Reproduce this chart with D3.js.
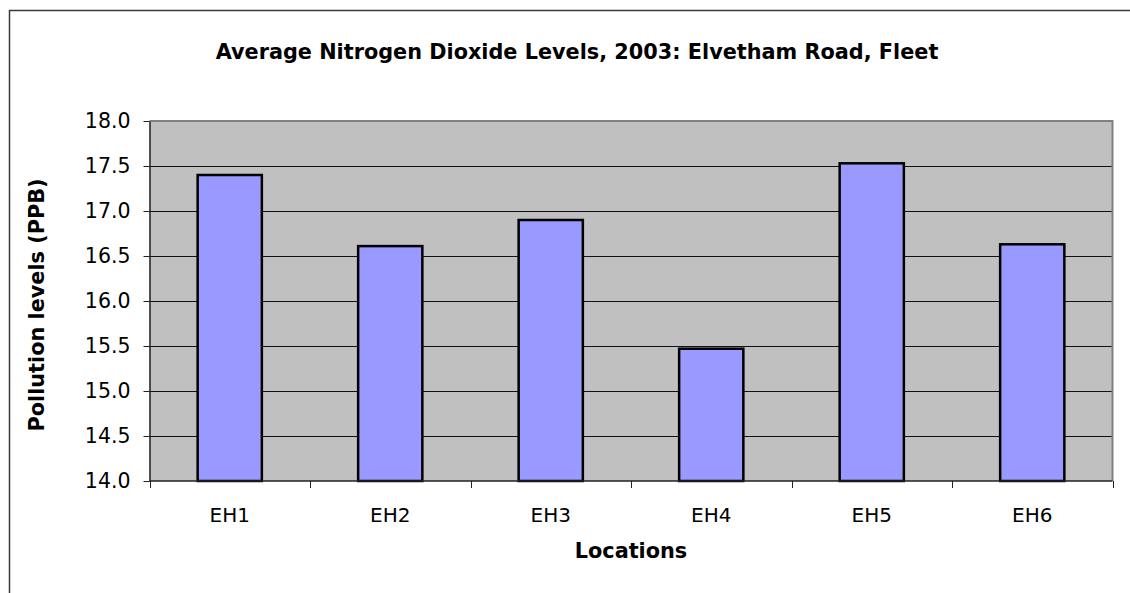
<!DOCTYPE html>
<html>
<head>
<meta charset="utf-8">
<script src="https://cdn.jsdelivr.net/npm/d3@7"></script>
<style>
  body { margin: 0; background: #fff; }
  svg { display: block; font-family: Verdana, "DejaVu Sans", sans-serif; }
</style>
</head>
<body>
<svg id="chart" width="1130" height="593"></svg>
<script>
// chart data
const locations = ['EH1', 'EH2', 'EH3', 'EH4', 'EH5', 'EH6']
const no2Levels = [17.40, 16.61, 16.90, 15.47, 17.53, 16.63]
const yTicks = [14.0, 14.5, 15.0, 15.5, 16.0, 16.5, 17.0, 17.5, 18.0]

const chartTitle = 'Average Nitrogen Dioxide Levels, 2003: Elvetham Road, Fleet'
const xTitle = 'Locations'
const yTitle = 'Pollution levels (PPB)'

const svg = d3.select('#chart')
const plot = { left: 149.5, right: 1112.5, top: 121, bottom: 481 }

// outer chart border (top + left visible only)
svg.append('path')
  .attr('d', 'M9.5,600 V10.5 H1140')
  .attr('fill', 'none')
  .attr('stroke', '#3a3a3a')
  .attr('stroke-width', 1.5)

let x = d3.scaleBand()
  .domain(locations)
  .range([plot.left, plot.right])
  .paddingInner(0.6)
  .paddingOuter(0.3)

let xEdge = d3.scaleLinear()
  .domain([0, locations.length])
  .range([plot.left, plot.right])

let y = d3.scaleLinear()
  .domain([14, 18])
  .range([plot.bottom, plot.top])

// plot background
svg.append('rect')
  .attr('x', plot.left)
  .attr('y', plot.top)
  .attr('width', plot.right - plot.left)
  .attr('height', plot.bottom - plot.top)
  .attr('fill', '#c0c0c0')

// gridlines
svg.append('g')
  .selectAll('line')
  .data(yTicks.slice(1, -1))
  .join('line')
  .attr('x1', plot.left)
  .attr('x2', plot.right)
  .attr('y1', d => Math.round(y(d)) + 0.5)
  .attr('y2', d => Math.round(y(d)) + 0.5)
  .attr('stroke', '#111')
  .attr('stroke-width', 1)

// plot border (top and right)
svg.append('path')
  .attr('d', `M${plot.left},${plot.top} H${plot.right} V${plot.bottom}`)
  .attr('fill', 'none')
  .attr('stroke', '#808080')
  .attr('stroke-width', 2)

// bars
svg.append('g')
  .selectAll('rect')
  .data(locations)
  .join('rect')
  .attr('x', d => x(d))
  .attr('width', x.bandwidth())
  .attr('y', (d, i) => y(no2Levels[i]))
  .attr('height', (d, i) => y(14) - y(no2Levels[i]))
  .attr('fill', '#9999ff')
  .attr('stroke', '#000')
  .attr('stroke-width', 2.5)

// y axis
let yAxis = d3.axisLeft(y)
  .tickValues(yTicks)
  .tickFormat(d3.format('.1f'))
  .tickSizeInner(6)
  .tickSizeOuter(0)
  .tickPadding(13)

let yAxisG = svg.append('g')
  .attr('transform', `translate(${plot.left},0)`)
  .call(yAxis)
yAxisG.select('.domain').attr('stroke', '#222').attr('stroke-width', 1.5)
yAxisG.selectAll('.tick line').attr('stroke', '#222')
yAxisG.selectAll('.tick text')
  .attr('font-size', 20.5)
  .attr('fill', '#000')
  .style('font-family', 'Verdana, "DejaVu Sans", sans-serif')

// x axis line + boundary ticks
let xAxisG = svg.append('g')
xAxisG.append('line')
  .attr('x1', plot.left)
  .attr('x2', plot.right)
  .attr('y1', plot.bottom)
  .attr('y2', plot.bottom)
  .attr('stroke', '#222')
  .attr('stroke-width', 1.5)
xAxisG.selectAll('line.tick')
  .data(d3.range(locations.length + 1))
  .join('line')
  .attr('class', 'tick')
  .attr('x1', d => Math.round(xEdge(d)) + 0.5)
  .attr('x2', d => Math.round(xEdge(d)) + 0.5)
  .attr('y1', plot.bottom)
  .attr('y2', plot.bottom + 7)
  .attr('stroke', '#222')
xAxisG.selectAll('text')
  .data(locations)
  .join('text')
  .attr('x', d => x(d) + x.bandwidth() / 2)
  .attr('y', 522)
  .attr('text-anchor', 'middle')
  .attr('font-size', 20)
  .text(d => d)

// titles
svg.append('text')
  .attr('x', 577)
  .attr('y', 59)
  .attr('text-anchor', 'middle')
  .attr('font-size', 20.8)
  .attr('font-weight', 'bold')
  .text(chartTitle)

svg.append('text')
  .attr('x', plot.left + (plot.right - plot.left) / 2)
  .attr('y', 558)
  .attr('text-anchor', 'middle')
  .attr('font-size', 20.8)
  .attr('font-weight', 'bold')
  .text(xTitle)

svg.append('text')
  .attr('transform', `translate(44,${(plot.top + plot.bottom) / 2 + 4}) rotate(-90)`)
  .attr('text-anchor', 'middle')
  .attr('font-size', 20.8)
  .attr('font-weight', 'bold')
  .text(yTitle)
</script>
</body>
</html>
